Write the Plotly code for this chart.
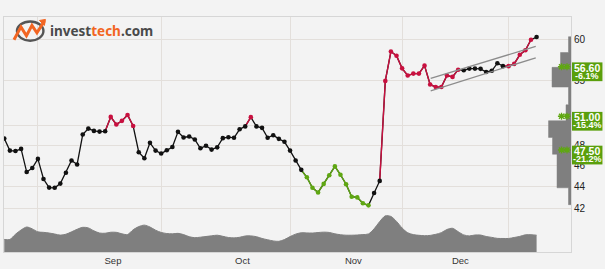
import math
import plotly.graph_objects as go

# ---------------- data ----------------
price = [48.66, 47.44, 47.40, 47.61, 45.35, 45.73, 46.62, 44.69, 43.89, 43.87,
         44.26, 45.28, 46.47, 46.08, 49.07, 49.69, 49.45, 49.38, 49.41, 50.93,
         50.12, 50.51, 51.14, 49.96, 47.28, 46.69, 48.23, 47.44, 47.15, 47.47,
         47.80, 49.35, 48.77, 48.87, 48.57, 47.67, 47.93, 47.54, 47.77, 48.70,
         48.80, 48.74, 49.62, 49.92, 50.90, 49.92, 49.77, 48.74, 49.00, 48.63,
         48.33, 47.44, 46.47, 45.56, 44.85, 43.87, 43.44, 44.23, 45.04, 45.89,
         45.09, 44.20, 43.05, 42.99, 42.46, 42.28, 43.39, 44.51, 54.94, 58.44,
         57.92, 56.41, 55.56, 55.79, 55.79, 56.73, 54.53, 54.23, 54.23, 55.56,
         55.40, 56.25, 56.18, 56.38, 56.38, 56.35, 55.98, 56.12, 57.02, 56.67,
         56.67, 56.94, 58.04, 58.60, 59.91, 60.25]

# signal per day: k = neutral, r = buy (red), g = sell (green)
signal = ("kkkkkkkkkkkkkkkkkkk" + "rrrrr" + "kkkkkkkkkkkkkkkkkkkk" + "r" +
          "kkkkkkkkk" + "gggggggggggg" + "kk" + "rrrrrrrrrrrrrr" +
          "kkkkkkkk" + "rrrrr" + "k")

volume = [12.7, 12.7, 18.0, 22.3, 25.3, 23.4, 20.4, 19.9, 19.2, 18.2,
          17.1, 18.0, 20.4, 23.0, 25.0, 24.4, 21.4, 19.2, 19.0, 20.0,
          19.9, 18.4, 17.7, 22.5, 25.7, 27.2, 25.3, 22.1, 19.8, 18.7,
          18.4, 18.9, 17.6, 15.5, 14.5, 15.0, 15.7, 16.4, 17.0, 15.9,
          14.7, 14.3, 14.9, 16.2, 16.3, 15.5, 13.7, 12.4, 11.2, 10.8,
          12.6, 15.6, 18.1, 19.5, 19.3, 19.2, 19.7, 20.1, 19.8, 18.4,
          17.5, 17.0, 17.0, 17.2, 17.6, 18.3, 23.5, 30.8, 36.6, 36.0,
          31.0, 24.3, 19.5, 17.6, 16.9, 16.5, 16.8, 17.9, 19.6, 22.8,
          24.0, 20.6, 17.3, 16.3, 17.2, 17.2, 15.7, 14.8, 13.8, 13.7,
          13.7, 14.7, 15.8, 17.4, 17.5, 17.0]

month_labels = ["Sep", "Oct", "Nov", "Dec"]
month_pos = [19.4, 42.5, 62.3, 81.4]
month_grid = [6, 28, 51, 71, 90]

y_ticks = [42, 44, 46, 48, 50, 55, 60]

levels = [56.60, 51.00, 47.50]
level_pct = ["-6.1%", "-15.4%", "-21.2%"]

# trend channel (start/end day index, start/end price)
chan_x = [76.1, 94.85]
chan_upper = [55.22, 59.08]
chan_lower = [53.81, 57.68]

# volume-at-price histogram (price bin edges, bar lengths)
hist_edges = [60.29, 58.32, 56.53, 54.23, 52.24, 50.52, 48.78, 47.08, 43.87, 42.34]
hist_len = [2.5, 10.5, 19.0, 2.5, 5.0, 22.5, 18.5, 14.0, 2.5]

# ---------------- style ----------------
W, H = 605, 269
ML, MR, MT, MB = 3, 34, 17, 14
PW, PH = W - ML - MR, H - MT - MB
LOG_LO, LOG_HI = 1.58348, 1.79828
BG = "#f3f3f3"
GRID = "#e3dfdb"
RED = "#c8103f"
GREEN = "#5fa712"
GREEN_LINE = "#a6d470"
BOX_GREEN = "#5a9f0c"
COLORS = {"k": "#111111", "r": RED, "g": GREEN}
FONT = "Liberation Sans"

def py2paper(py):
    return (H - MB - py) / PH

def px2paper(px):
    return (px - ML) / PW

def val2paper(v):
    return (math.log10(v) - LOG_LO) / (LOG_HI - LOG_LO)

n = len(price)
idx = list(range(n))

fig = go.Figure()

# volume area
fig.add_trace(go.Scatter(x=idx, y=volume, yaxis="y2", mode="lines",
                         line=dict(color="#7f7f7f", width=1, shape="spline", smoothing=0.8),
                         fill="tozeroy", fillcolor="#7f7f7f", hoverinfo="skip"))

# base price line
fig.add_trace(go.Scatter(x=idx, y=price, mode="lines",
                         line=dict(color=COLORS["k"], width=1.3), hoverinfo="skip"))

# coloured segments
for code in ("r", "g"):
    xs, ys = [], []
    for i in range(1, n):
        if signal[i] == code:
            xs += [i - 1, i, None]
            ys += [price[i - 1], price[i], None]
    fig.add_trace(go.Scatter(x=xs, y=ys, mode="lines",
                             line=dict(color=COLORS[code], width=1.4), hoverinfo="skip"))

# markers
fig.add_trace(go.Scatter(x=idx, y=price, mode="markers",
                         marker=dict(size=4.6, color=[COLORS[s] for s in signal]),
                         hoverinfo="skip"))

# trend channel
for line_vals in (chan_upper, chan_lower):
    fig.add_trace(go.Scatter(x=chan_x, y=line_vals, mode="lines",
                             line=dict(color="#8c8c8c", width=1.3), hoverinfo="skip"))

# volume at price histogram
hx, hy = [0], [hist_edges[0]]
for k, L in enumerate(hist_len):
    hx += [L, L]
    hy += [hist_edges[k], hist_edges[k + 1]]
hx += [0]
hy += [hist_edges[-1]]
fig.add_trace(go.Scatter(x=hx, y=hy, xaxis="x2", mode="lines", fill="toself",
                         fillcolor="#7f7f7f", line=dict(color="#7f7f7f", width=0.5),
                         hoverinfo="skip"))

# green asterisks
for lv in levels:
    fig.add_trace(go.Scatter(x=[4, 9.5], y=[lv, lv], xaxis="x2", mode="markers",
                             marker=dict(symbol="asterisk-open", size=6, color=GREEN,
                                         line=dict(color=GREEN, width=1.3)),
                             hoverinfo="skip"))

shapes = []
annotations = []
for lv, pct in zip(levels, level_pct):
    shapes.append(dict(type="line", xref="paper", yref="y", x0=0, x1=1,
                       y0=math.log10(lv), y1=math.log10(lv),
                       line=dict(color=GREEN_LINE, width=1), layer="below"))
    yp = val2paper(lv)
    shapes.append(dict(type="rect", xref="paper", yref="paper",
                       x0=px2paper(572), x1=px2paper(602.5),
                       y0=yp - 14.6 / PH, y1=yp + 4.4 / PH,
                       fillcolor=BOX_GREEN, line=dict(width=0), layer="above"))
    annotations.append(dict(xref="paper", yref="paper", x=px2paper(587.3),
                            y=yp - 0.9 / PH, xanchor="center", yanchor="middle",
                            text="<b>%.2f</b>" % lv, showarrow=False,
                            font=dict(family=FONT, size=10.5, color="white")))
    annotations.append(dict(xref="paper", yref="paper", x=px2paper(587.3),
                            y=yp - 8.9 / PH, xanchor="center", yanchor="middle",
                            text="<b>%s</b>" % pct, showarrow=False,
                            font=dict(family=FONT, size=9, color="white")))

# logo
def pts_path(pts):
    return "M" + " L".join("%.5f,%.5f" % (px2paper(a), py2paper(b)) for a, b in pts)

shapes.append(dict(type="circle", xref="paper", yref="paper",
                   x0=px2paper(16), x1=px2paper(42.5), y0=py2paper(41), y1=py2paper(21.5),
                   line=dict(color="#555555", width=2.4), layer="above"))
shapes.append(dict(type="path", xref="paper", yref="paper",
                   path=pts_path([(13, 40), (20, 27), (25.5, 36), (31, 25.5), (36, 33), (43.5, 21)]),
                   line=dict(color="#f26522", width=3), layer="above"))
shapes.append(dict(type="path", xref="paper", yref="paper",
                   path=pts_path([(38.5, 20.5), (44.5, 19.5), (43.5, 25.5)]) + " Z",
                   fillcolor="#f26522", line=dict(color="#f26522", width=1), layer="above"))
annotations.append(dict(xref="paper", yref="paper", x=px2paper(47), y=py2paper(31.5),
                        xanchor="left", yanchor="middle", showarrow=False,
                        text="<b>invest<span style='color:#f26522'>tech</span>.com</b>",
                        font=dict(family="Noto Sans", size=13.5, color="#4a4a4a")))

fig.update_layout(
    width=W, height=H, margin=dict(l=ML, r=MR, t=MT, b=MB),
    paper_bgcolor=BG, plot_bgcolor=BG, showlegend=False,
    shapes=shapes, annotations=annotations,
    xaxis=dict(range=[-0.05, (PW + ML - 3.3) / 5.613], tickmode="array",
               tickvals=month_pos, ticktext=month_labels, showgrid=False,
               zeroline=False, showline=True, mirror=True, linecolor="#d6d6d6",
               ticks="", tickfont=dict(family=FONT, size=9.5, color="#333333"),
               minor=dict(tickmode="array", tickvals=month_grid, showgrid=True,
                          gridcolor=GRID, gridwidth=1, ticks="")),
    yaxis=dict(type="log", range=[LOG_LO, LOG_HI], side="right", tickmode="array",
               tickvals=y_ticks, ticktext=[str(t) for t in y_ticks],
               showgrid=True, gridcolor=GRID, gridwidth=1, zeroline=False,
               showline=True, mirror=True, linecolor="#d6d6d6", ticks="",
               tickfont=dict(family=FONT, size=10, color="#222222")),
    yaxis2=dict(overlaying="y", range=[0, PH], visible=False),
    xaxis2=dict(overlaying="x", range=[PW, 0], visible=False),
)

fig.write_html("out.html")
